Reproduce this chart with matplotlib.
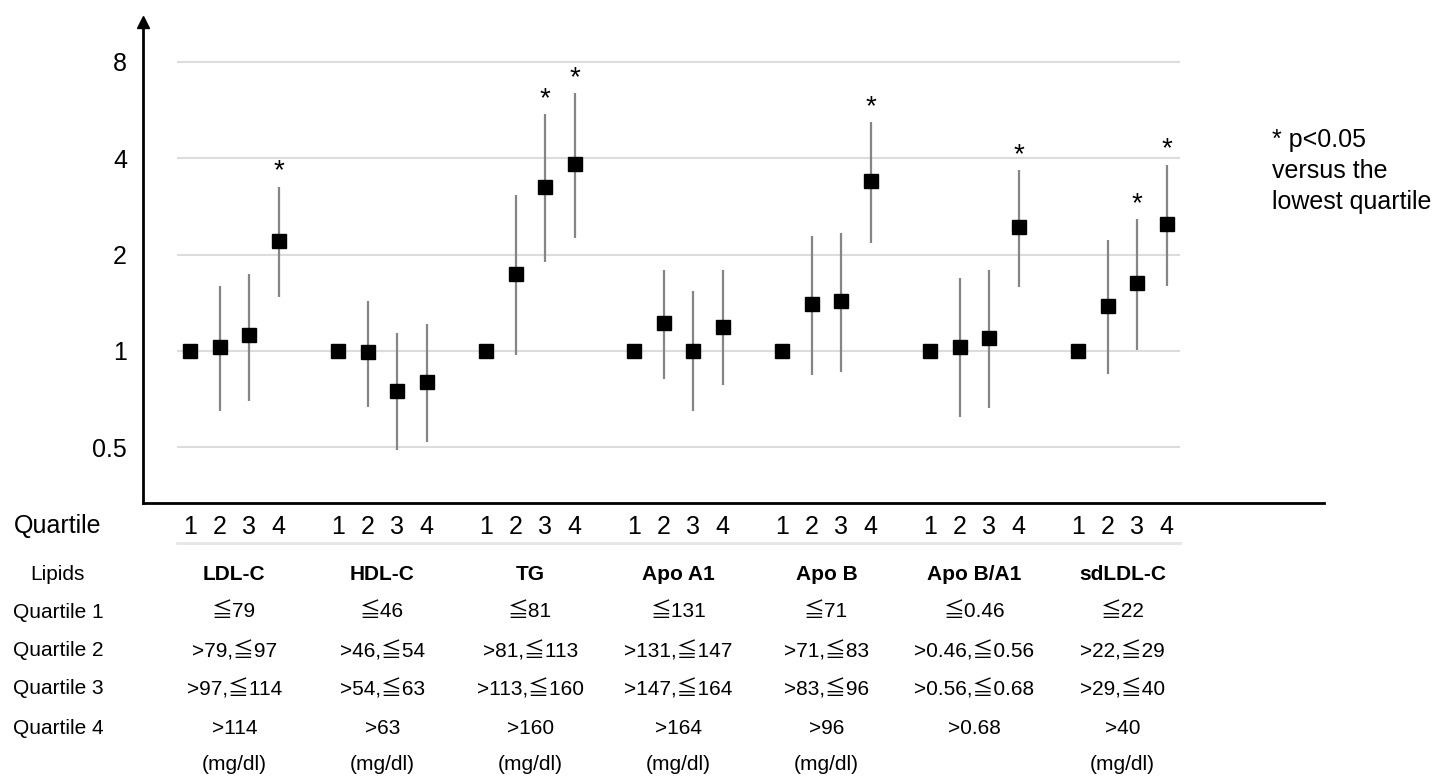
import matplotlib
matplotlib.use("Agg")
import matplotlib.pyplot as plt
import matplotlib.transforms as mtransforms
import numpy as np

plt.rcParams['font.family'] = ['Liberation Sans', 'Noto Sans CJK JP', 'DejaVu Sans']

# odds ratios (quartile 1 is the reference), with 95% CI
lipids = ['LDL-C', 'HDL-C', 'TG', 'Apo A1', 'Apo B', 'Apo B/A1', 'sdLDL-C']
odds = [
    [1, 1.03, 1.12, 2.20],
    [1, 0.99, 0.75, 0.80],
    [1, 1.74, 3.26, 3.83],
    [1, 1.22, 1.00, 1.19],
    [1, 1.40, 1.43, 3.39],
    [1, 1.03, 1.10, 2.43],
    [1, 1.38, 1.63, 2.49],
]
ci_low = [
    [np.nan, 0.65, 0.70, 1.47],
    [np.nan, 0.67, 0.49, 0.52],
    [np.nan, 0.97, 1.89, 2.26],
    [np.nan, 0.82, 0.65, 0.78],
    [np.nan, 0.84, 0.86, 2.17],
    [np.nan, 0.62, 0.665, 1.58],
    [np.nan, 0.85, 1.01, 1.60],
]
ci_high = [
    [np.nan, 1.60, 1.74, 3.26],
    [np.nan, 1.43, 1.14, 1.21],
    [np.nan, 3.07, 5.49, 6.37],
    [np.nan, 1.79, 1.54, 1.79],
    [np.nan, 2.29, 2.33, 5.17],
    [np.nan, 1.69, 1.79, 3.67],
    [np.nan, 2.22, 2.58, 3.81],
]
significant = [
    [False, False, False, True],
    [False, False, False, False],
    [False, False, True, True],
    [False, False, False, False],
    [False, False, False, True],
    [False, False, False, True],
    [False, False, True, True],
]

quartile_1 = ['≦79', '≦46', '≦81', '≦131', '≦71', '≦0.46', '≦22']
quartile_2 = ['>79,≦97', '>46,≦54', '>81,≦113', '>131,≦147', '>71,≦83', '>0.46,≦0.56', '>22,≦29']
quartile_3 = ['>97,≦114', '>54,≦63', '>113,≦160', '>147,≦164', '>83,≦96', '>0.56,≦0.68', '>29,≦40']
quartile_4 = ['>114', '>63', '>160', '>164', '>96', '>0.68', '>40']
units = ['(mg/dl)', '(mg/dl)', '(mg/dl)', '(mg/dl)', '(mg/dl)', '', '(mg/dl)']
y_ticks = [0.5, 1, 2, 4, 8]

W, H = 1442, 777


def fx(px):
    return px / W


def fy(py):
    return 1 - py / H


fig = plt.figure(figsize=(W / 100, H / 100), dpi=100)
ax = fig.add_axes([fx(143), fy(503), fx(1324) - fx(143), fy(22) - fy(503)])

n_groups = len(lipids)
xs = np.array([[5 * g + q for q in range(4)] for g in range(n_groups)])

ax.set_yscale('log', base=2)
ax.set_ylim(0.335, 10.65)
ax.set_xlim(-1.588, 38.31)

# grid lines
ax.hlines(y_ticks, -0.44, 33.45, color='#dcdcdc', lw=1.5, zorder=0)

for g in range(n_groups):
    x = xs[g]
    ax.vlines(x, ci_low[g], ci_high[g], color='#858585', lw=1.6, zorder=2)
    ax.plot(x, odds[g], 's', color='black', markersize=10.6, zorder=3, ls='none')
    for q in range(4):
        if significant[g][q]:
            ax.annotate('*', (x[q], ci_high[g][q]), xytext=(0, 6), textcoords='offset points',
                        ha='center', va='baseline', fontsize=20)

ax.set_yticks(y_ticks)
ax.set_yticklabels(['0.5', '1', '2', '4', '8'])
ax.yaxis.set_minor_locator(matplotlib.ticker.NullLocator())
ax.tick_params(axis='y', length=0, pad=11.5, labelsize=18)

ax.set_xticks(xs.ravel())
ax.set_xticklabels([str(q + 1) for g in range(n_groups) for q in range(4)])
ax.tick_params(axis='x', length=0, pad=9, labelsize=18)

for s in ['top', 'right']:
    ax.spines[s].set_visible(False)
ax.spines['left'].set_linewidth(2)
ax.spines['bottom'].set_linewidth(2)
ax.plot([0], [1], marker='^', color='black', markersize=9, transform=ax.transAxes, clip_on=False)

# table under the axis
blend = mtransforms.blended_transform_factory(ax.transData, fig.transFigure)
ax.plot([-0.44, 33.45], [fy(543), fy(543)], color='#e6e6e6', lw=2, transform=blend, clip_on=False)

fig.text(fx(14), fy(526), 'Quartile', fontsize=18, ha='left', va='center')
fig.text(fx(57), fy(574), 'Lipids', fontsize=15, ha='center', va='center')
row_y = [612, 651, 689, 728]
for i, yy in enumerate(row_y):
    fig.text(fx(13), fy(yy), 'Quartile %d' % (i + 1), fontsize=15, ha='left', va='center')

rows = [quartile_1, quartile_2, quartile_3, quartile_4]
for g in range(n_groups):
    cx = 5 * g + 1.5
    ax.text(cx, fy(574), lipids[g], transform=blend, fontsize=15, fontweight='bold',
            ha='center', va='center')
    for row, yy in zip(rows, row_y):
        ax.text(cx, fy(yy), row[g], transform=blend, fontsize=15, ha='center', va='center')
    ax.text(cx, fy(765), units[g], transform=blend, fontsize=15, ha='center', va='center')

fig.text(fx(1272), fy(128), '* p<0.05\nversus the\nlowest quartile', fontsize=18,
         ha='left', va='top', linespacing=1.38)

fig.savefig('out.png', dpi=100)
